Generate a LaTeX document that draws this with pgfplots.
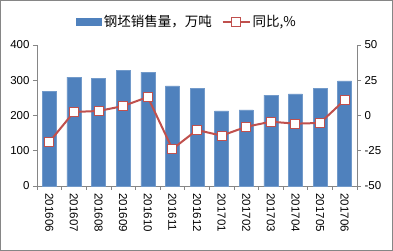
\documentclass[border=0pt]{standalone}
\usepackage{fontspec}
\setmainfont{Liberation Sans}
\newfontfamily\cjk{Noto Sans CJK SC}
\usepackage{pgfplots}
\pgfplotsset{compat=1.18}
\definecolor{barblue}{HTML}{4F81BD}
\definecolor{linered}{HTML}{C0504D}
\definecolor{axgray}{HTML}{868686}
\begin{document}
\begin{tikzpicture}[x=1pt,y=1pt]
\draw[axgray,line width=0.8pt] (0.4,0.4) rectangle (392.6,250.6);
\begin{axis}[
  at={(37pt,65pt)}, anchor=south west,
  scale only axis, width=320pt, height=141pt,
  xmin=-0.5, xmax=12.5, ymin=0, ymax=400,
  xtick={0,...,12},
  xticklabels={201606,201607,201608,201609,201610,201611,201612,201701,201702,201703,201704,201705,201706},
  xticklabel style={rotate=-90, anchor=west, font=\fontsize{11.5}{12}\selectfont},
  major x tick style={draw=none},
  minor xtick={-0.5,0.5,...,12.5},
  minor tick length=4pt,
  ytick={0,100,200,300,400},
  yticklabel style={font=\fontsize{11.5}{12}\selectfont},
  tick align=outside, major tick length=4pt,
  axis x line*=bottom, axis y line*=left,
  axis line style={axgray, line width=0.6pt},
  tick style={axgray, line width=0.6pt},
  /pgf/number format/assume math mode=true,
  clip=false,
]
\addplot[ybar, bar width=14pt, fill=barblue, draw=barblue!80!white] coordinates {
(0,269) (1,309) (2,306) (3,329) (4,323) (5,284) (6,278) (7,213) (8,216) (9,258) (10,261) (11,278) (12,298)};
\end{axis}
\begin{axis}[
  at={(37pt,65pt)}, anchor=south west,
  scale only axis, width=320pt, height=141pt,
  xmin=-0.5, xmax=12.5, ymin=-50, ymax=50,
  xtick=\empty,
  ytick={-50,-25,0,25,50},
  yticklabel style={font=\fontsize{11.5}{12}\selectfont},
  axis y line*=right, axis x line=none,
  tick align=outside, major tick length=4pt,
  axis line style={axgray, line width=0.6pt},
  tick style={axgray, line width=0.6pt},
  /pgf/number format/assume math mode=true,
  legend columns=2,
  legend style={at={(0.469,1.163)}, anchor=center, draw=none, fill=none,
    font=\cjk\fontsize{13.5}{14}\selectfont,
    /tikz/every even column/.append style={column sep=8pt},
    /tikz/every odd column/.append style={inner sep=1pt}},
  clip=false,
]
\addlegendimage{legend image code/.code={\fill[barblue] (-1pt,-3.5pt) rectangle (24pt,3.5pt);}}
\addlegendentry{钢坯销售量，万吨}
\addplot[linered, line width=2pt, mark=square*, mark size=4.5pt,
  mark options={fill=white, draw=linered, line width=1pt},
  legend image code/.code={
    \draw[linered, line width=1.8pt] (-1pt,0pt) -- (26pt,0pt);
    \draw[linered, fill=white, line width=0.8pt] (8pt,-4.3pt) rectangle (17pt,4.3pt);}] coordinates {
(0,-18.8) (1,2.5) (2,3.2) (3,6.7) (4,13.1) (5,-23.8) (6,-10.3) (7,-14.3) (8,-8) (9,-4.4) (10,-5.8) (11,-5.3) (12,11)};
\addlegendentry{同比,\%}
\end{axis}
\end{tikzpicture}
\end{document}
